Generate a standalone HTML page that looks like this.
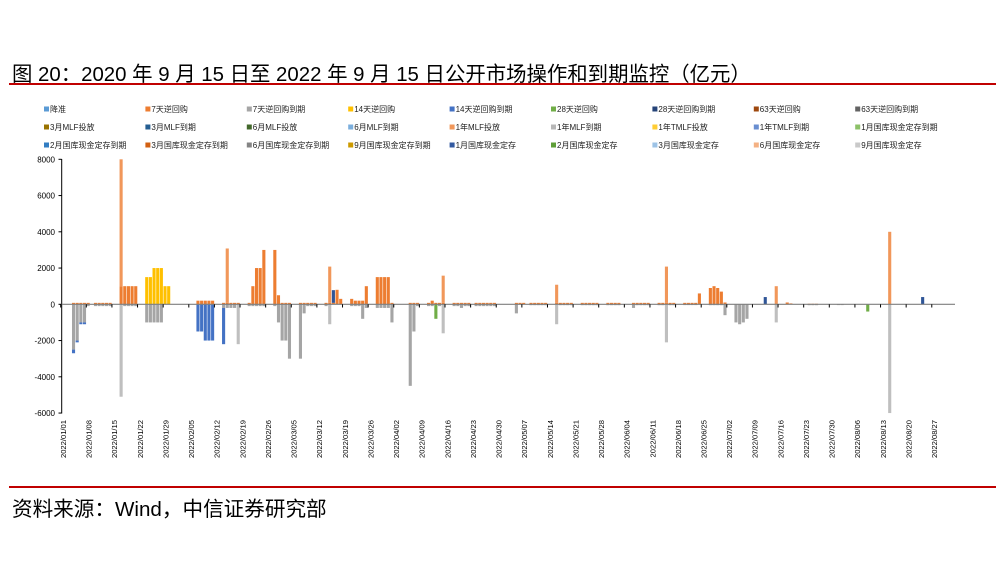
<!DOCTYPE html>
<html><head><meta charset="utf-8">
<style>
html,body{margin:0;padding:0;background:#fff;}
body{width:996px;height:582px;position:relative;overflow:hidden;font-family:"Liberation Sans","Noto Sans CJK SC",sans-serif;}
.title{position:absolute;left:12px;top:57px;font-size:20.4px;color:#000;white-space:nowrap;letter-spacing:0px;}
.rl{position:absolute;left:9px;right:0;height:2px;background:#C00000;}
.src{position:absolute;left:12px;top:492px;font-size:20.6px;color:#000;white-space:nowrap;}
svg{position:absolute;left:0;top:0;}
</style></head><body>
<div class="title">图 20：2020 年 9 月 15 日至 2022 年 9 月 15 日公开市场操作和到期监控（亿元）</div>
<div class="rl" style="top:83px"></div>
<div class="rl" style="top:486px"></div>
<div class="src">资料来源：Wind，中信证券研究部</div>
<svg id="c" width="996" height="582" xmlns="http://www.w3.org/2000/svg" font-family="Liberation Sans, Noto Sans CJK SC, sans-serif"></svg>
<script>
var s=document.getElementById('c'),h='';
var leg=[["降准","#5B9BD5"],["7天逆回购","#ED7D31"],["7天逆回购到期","#A5A5A5"],["14天逆回购","#FFC000"],["14天逆回购到期","#4472C4"],["28天逆回购","#70AD47"],["28天逆回购到期","#264478"],["63天逆回购","#9E480E"],["63天逆回购到期","#636363"],
["3月MLF投放","#997300"],["3月MLF到期","#255E91"],["6月MLF投放","#43682B"],["6月MLF到期","#7CAFDD"],["1年MLF投放","#F1975A"],["1年MLF到期","#B7B7B7"],["1年TMLF投放","#FFCD33"],["1年TMLF到期","#698ED0"],["1月国库现金定存到期","#8CC168"],
["2月国库现金定存到期","#327DC2"],["3月国库现金定存到期","#D26012"],["6月国库现金定存到期","#848484"],["9月国库现金定存到期","#CC9A00"],["1月国库现金定存","#335AA1"],["2月国库现金定存","#5E9E37"],["3月国库现金定存","#9DC3E6"],["6月国库现金定存","#F4B183"],["9月国库现金定存","#C9C9C9"]];
for(var i=0;i<leg.length;i++){var r=Math.floor(i/9),c=i%9,x=44+c*101.4,y=109+r*18;
h+='<rect x="'+x+'" y="'+(y-2.5)+'" width="5" height="5" fill="'+leg[i][1]+'"/>';
h+='<text x="'+(x+6)+'" y="'+(y+3)+'" font-size="8" fill="#222">'+leg[i][0]+'</text>';}
function Y(v){return 304.3-v*0.018125;}
h+='<line x1="61.7" y1="159" x2="61.7" y2="413.5" stroke="#000" stroke-width="1"/>';
for(var v=8000;v>=-6000;v-=2000){var yy=Y(v);h+='<line x1="58.5" y1="'+yy+'" x2="61.7" y2="'+yy+'" stroke="#000" stroke-width="1"/>';
h+='<text x="55" y="'+(yy+3)+'" font-size="8" text-anchor="end" fill="#000">'+v+'</text>';}
function XL(d){return 60.7+d*3.66;}
var O="#ED7D31",G="#A5A5A5",L="#F1975A",LG="#BFBFBF",B="#4472C4",Yw="#FFC000",Gr="#70AD47",DB="#2F5597";
var D=[];function a(d,arr){D.push([d,arr]);}
a(3,[[O,80],[G,-2500],[B,-200]]);a(4,[[O,80],[G,-2000],[B,-100]]);a(5,[[O,80],[G,-1000],[B,-100]]);a(6,[[O,80],[G,-1000],[B,-100]]);a(7,[[O,80],[G,-100]]);
for(var d=9;d<=13;d++)a(d,[[O,80],[G,-100]]);
a(16,[[O,1000],[L,7000],[LG,-5100]]);for(d=17;d<=20;d++)a(d,[[O,1000],[G,-100]]);
a(23,[[Yw,1500],[G,-1000]]);a(24,[[Yw,1500],[G,-1000]]);for(d=25;d<=27;d++)a(d,[[Yw,2000],[G,-1000]]);a(28,[[Yw,1000]]);a(29,[[Yw,1000]]);
a(37,[[O,200],[B,-1500]]);a(38,[[O,200],[B,-1500]]);for(d=39;d<=41;d++)a(d,[[O,200],[B,-2000]]);
a(44,[[O,80],[G,-200],[B,-2000]]);a(45,[[O,80],[L,3000],[G,-200]]);a(46,[[O,80],[G,-200]]);a(47,[[O,80],[G,-200]]);a(48,[[O,80],[LG,-2200]]);
a(51,[[O,80],[G,-100]]);a(52,[[O,1000],[G,-100]]);a(53,[[O,2000],[G,-100]]);a(54,[[O,2000],[G,-100]]);a(55,[[O,3000],[G,-100]]);
a(58,[[O,3000],[G,-100]]);a(59,[[O,500],[G,-1000]]);a(60,[[O,80],[G,-2000]]);a(61,[[O,80],[G,-2000]]);a(62,[[O,80],[G,-3000]]);
a(65,[[O,80],[G,-3000]]);a(66,[[O,80],[G,-500]]);for(d=67;d<=69;d++)a(d,[[O,80],[G,-100]]);
a(72,[[O,80],[G,-100]]);a(73,[[O,80],[L,2000],[LG,-1100]]);a(74,[[O,80],[DB,700]]);a(75,[[O,800]]);a(76,[[O,300]]);
a(79,[[O,300],[G,-100]]);a(80,[[O,200],[G,-100]]);a(81,[[O,200],[G,-100]]);a(82,[[O,200],[G,-800]]);a(83,[[O,1000],[G,-200]]);
for(d=86;d<=89;d++)a(d,[[O,1500],[G,-200]]);a(90,[[O,80],[G,-1000]]);
a(95,[[O,80],[G,-4500]]);a(96,[[O,80],[G,-1500]]);a(97,[[O,80],[G,-100]]);
a(100,[[O,80],[G,-100]]);a(101,[[O,200],[G,-100]]);a(102,[[O,80],[Gr,-800]]);a(103,[[O,80],[G,-100]]);a(104,[[O,80],[L,1500],[LG,-1600]]);
for(d=107;d<=111;d++)a(d,[[O,80],[G,d==109?-200:-100]]);
for(d=113;d<=118;d++)a(d,[[O,80],[G,-100]]);
a(124,[[O,80],[G,-500]]);a(125,[[O,80]]);a(126,[[O,80]]);
for(d=128;d<=132;d++)a(d,[[O,80],[G,-50]]);
a(135,[[O,80],[L,1000],[LG,-1100]]);for(d=136;d<=139;d++)a(d,[[O,80],[G,-50]]);
for(d=142;d<=146;d++)a(d,[[O,80],[G,-50]]);
for(d=149;d<=152;d++)a(d,[[O,80],[G,-50]]);
for(d=156;d<=160;d++)a(d,[[O,80],[G,d==156?-200:-50]]);
for(d=163;d<=167;d++)a(d,d==165?[[O,80],[L,2000],[LG,-2100]]:[[O,80],[G,-50]]);
for(d=170;d<=173;d++)a(d,[[O,80],[G,-30]]);a(174,[[O,600]]);
a(177,[[O,900],[G,-50]]);a(178,[[O,1000],[G,-50]]);a(179,[[O,900],[G,-50]]);a(180,[[O,700],[G,-50]]);a(181,[[O,100],[G,-600]]);
a(184,[[G,-1000]]);a(185,[[G,-1100]]);a(186,[[G,-1000]]);a(187,[[G,-800]]);
a(192,[[DB,400]]);a(195,[[L,1000],[LG,-1000]]);a(198,[[O,100]]);a(199,[[O,50]]);
for(d=204;d<=206;d++)a(d,[[O,30],[G,-50]]);a(212,[[G,-20]]);a(213,[[G,-20]]);
a(220,[[Gr,-400]]);a(226,[[L,4000],[LG,-6000]]);a(235,[[DB,400]]);
for(var k=0;k<D.length;k++){var x=XL(D[k][0])+0.3,p=0,n=0,arr=D[k][1];
for(var j=0;j<arr.length;j++){var c=arr[j][0],v=arr[j][1],y1,y2;
if(v>=0){y1=Y(p+v);y2=Y(p);p+=v;}else{y1=Y(n);y2=Y(n+v);n+=v;}
h+='<rect x="'+x.toFixed(2)+'" y="'+y1.toFixed(2)+'" width="3.1" height="'+Math.max(0.8,y2-y1).toFixed(2)+'" fill="'+c+'"/>';}}
h+='<line x1="61.7" y1="304.3" x2="955" y2="304.3" stroke="#7F7F7F" stroke-width="1.2"/>';
for(d=0;d<=244;d+=7){var tx=XL(d);h+='<line x1="'+tx+'" y1="304.3" x2="'+tx+'" y2="307.5" stroke="#000" stroke-width="1"/>';}
var md=[31,28,31,30,31,30,31,31];
function lab(d){var m=0;while(d>=md[m]){d-=md[m];m++;}return '2022/'+String(m+1).padStart(2,'0')+'/'+String(d+1).padStart(2,'0');}
for(d=0;d<=238;d+=7){var cx=XL(d)+2.7;
h+='<text transform="translate('+(cx+2.6)+',420) rotate(-90)" font-size="7.6" text-anchor="end" fill="#000">'+lab(d)+'</text>';}
s.innerHTML=h;
</script>
</body></html>
